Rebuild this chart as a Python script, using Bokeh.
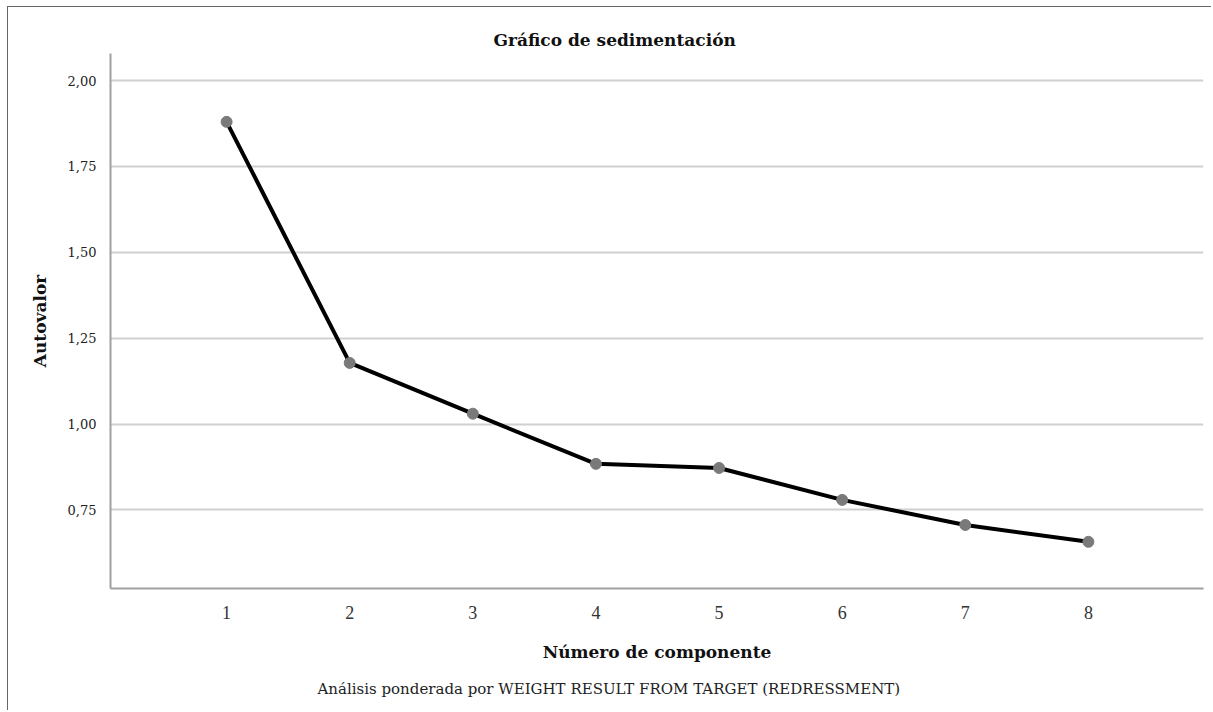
from bokeh.plotting import figure
from bokeh.models import FixedTicker, Title, Range1d
from bokeh.embed import file_html
from bokeh.resources import INLINE

components = [1, 2, 3, 4, 5, 6, 7, 8]
eigenvalues = [1.880, 1.178, 1.030, 0.884, 0.872, 0.779, 0.706, 0.657]
y_ticks = [0.75, 1.00, 1.25, 1.50, 1.75, 2.00]
y_tick_labels = ["0,75", "1,00", "1,25", "1,50", "1,75", "2,00"]
footnote = "Análisis ponderada por WEIGHT RESULT FROM TARGET (REDRESSMENT)"

SERIF = "DejaVu Serif"
TIMES = "Liberation Serif"

p = figure(width=1204, height=704, output_backend="svg", toolbar_location=None,
           x_range=Range1d(0.057, 8.935), y_range=Range1d(0.521, 2.079),
           min_border_left=102, min_border_right=9, min_border_top=46, min_border_bottom=123)
p.styles = {"margin-left": "7px", "margin-top": "6px",
            "border-left": "1px solid #666666", "border-top": "1px solid #666666"}
p.outline_line_color = None

p.title.text = "Gráfico de sedimentación"
p.title.text_font = SERIF
p.title.text_font_size = "17px"
p.title.text_font_style = "bold"
p.title.text_color = "#111111"
p.title.align = "left"
p.title.offset = 383
p.title.standoff = 7

foot = Title(text=footnote, align="left", offset=207, text_font=SERIF,
             text_font_size="15px", text_font_style="normal",
             text_color="#222222", standoff=26)
p.add_layout(foot, "below")

p.line(components, eigenvalues, line_color="black", line_width=4)
p.scatter(components, eigenvalues, size=11, fill_color="#7a7a7a", line_color="#7a7a7a")

p.xaxis.ticker = FixedTicker(ticks=components)
p.yaxis.ticker = FixedTicker(ticks=y_ticks)
p.yaxis.major_label_overrides = {t: l for t, l in zip(y_ticks, y_tick_labels)}

for ax in (p.xaxis, p.yaxis):
    ax.major_tick_line_color = None
    ax.minor_tick_line_color = None
    ax.axis_line_color = "#a0a0a0"
    ax.axis_line_width = 2
    ax.axis_label_text_font = SERIF
    ax.axis_label_text_font_style = "bold"
    ax.axis_label_text_font_size = "17px"
    ax.axis_label_text_color = "#111111"

p.xaxis.axis_label = "Número de componente"
p.xaxis.major_label_text_font = TIMES
p.xaxis.major_label_text_font_size = "18px"
p.xaxis.major_label_text_color = "#333333"
p.xaxis.major_label_standoff = 11
p.xaxis.axis_label_standoff = 20

p.yaxis.axis_label = "Autovalor"
p.yaxis.major_label_text_font = SERIF
p.yaxis.major_label_text_font_size = "13px"
p.yaxis.major_label_text_color = "#222222"
p.yaxis.major_label_standoff = 8
p.yaxis.axis_label_standoff = 15

p.xgrid.grid_line_color = None
p.ygrid.grid_line_color = "#d0d0d0"
p.ygrid.grid_line_width = 2

open("out.html", "w").write(file_html(p, INLINE))
